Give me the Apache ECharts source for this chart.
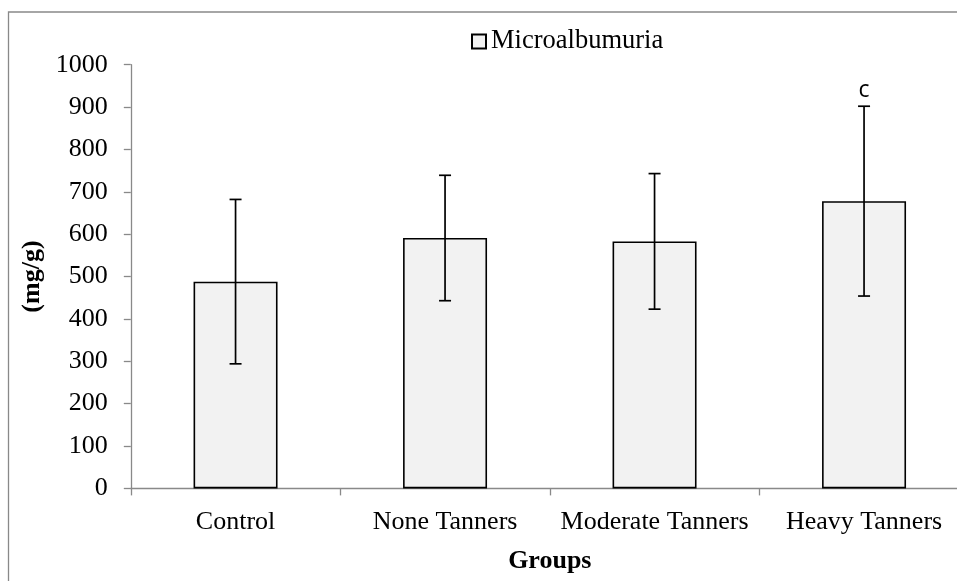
<!DOCTYPE html>
<html>
<head>
<meta charset="utf-8">
<script src="https://cdn.jsdelivr.net/npm/echarts@6/dist/echarts.min.js"></script>
<style>
html,body{margin:0;padding:0;background:#fff;}
#chart{width:957px;height:581px;}
</style>
</head>
<body>
<div id="chart"></div>
<script>
// ---- data ----
const categories = ['Control', 'None Tanners', 'Moderate Tanners', 'Heavy Tanners'];
const means = [488, 591, 583, 678];
const errors = [194, 148, 160, 224];
const sigLabels = ['', '', '', 'c'];
const seriesName = 'Microalbumuria';
const yTicks = { min: 0, max: 1000, interval: 100 };

const serif = '"Liberation Serif", "Times New Roman", serif';
const axisGray = '#898989';

const errData = categories.map((c, i) => [i, means[i] - errors[i], means[i] + errors[i], sigLabels[i]]);

const chart = echarts.init(document.getElementById('chart'), null, { renderer: 'canvas' });
chart.setOption({
  animation: false,
  backgroundColor: '#ffffff',
  graphic: [
    { type: 'polyline', shape: { points: [[8.5, 590], [8.5, 12], [970, 12]] },
      style: { stroke: axisGray, lineWidth: 1.3, fill: null }, silent: true }
  ],
  legend: {
    data: [seriesName],
    left: 466, top: 23,
    itemWidth: 14, itemHeight: 14,
    icon: 'rect',
    textStyle: { fontFamily: serif, fontSize: 26.5, color: '#000' }
  },
  grid: { left: 130.8, top: 64.7, width: 838, height: 423.7, containLabel: false, outerBoundsMode: 'none' },
  xAxis: {
    type: 'category',
    data: categories,
    boundaryGap: true,
    name: 'Groups',
    nameLocation: 'middle',
    nameGap: 60,
    nameTextStyle: { fontFamily: serif, fontSize: 26, fontWeight: 'bold', color: '#000' },
    axisLine: { lineStyle: { color: axisGray, width: 1.3 } },
    axisTick: { show: true, length: 7, lineStyle: { color: axisGray, width: 1.3 } },
    axisLabel: { fontFamily: serif, fontSize: 26, color: '#000', margin: 21, interval: 0 },
    splitLine: { show: false }
  },
  yAxis: {
    type: 'value',
    min: yTicks.min, max: yTicks.max, interval: yTicks.interval,
    name: '(mg/g)',
    nameLocation: 'middle',
    nameGap: 80,
    nameRotate: 90,
    nameTextStyle: { fontFamily: serif, fontSize: 26, fontWeight: 'bold', color: '#000' },
    axisLine: { show: true, lineStyle: { color: axisGray, width: 1.3 } },
    axisTick: { show: true, length: 7, lineStyle: { color: axisGray, width: 1.3 } },
    axisLabel: { fontFamily: serif, fontSize: 26, color: '#000', margin: 23, formatter: function (v) { return String(v); } },
    splitLine: { show: false }
  },
  series: [
    {
      name: seriesName,
      type: 'bar',
      data: means,
      barWidth: 84,
      itemStyle: { color: '#f2f2f2', borderColor: '#000', borderWidth: 1.6 },
      z: 2
    },
    {
      type: 'custom',
      name: 'err',
      data: errData,
      z: 5,
      renderItem: function (params, api) {
        const x = api.value(0);
        const lo = api.coord([x, api.value(1)]);
        const hi = api.coord([x, api.value(2)]);
        const hw = 6;
        const style = { stroke: '#000', lineWidth: 1.7 };
        const children = [
          { type: 'line', shape: { x1: hi[0], y1: hi[1], x2: lo[0], y2: lo[1] }, style: style },
          { type: 'line', shape: { x1: hi[0] - hw, y1: hi[1], x2: hi[0] + hw, y2: hi[1] }, style: style },
          { type: 'line', shape: { x1: lo[0] - hw, y1: lo[1], x2: lo[0] + hw, y2: lo[1] }, style: style }
        ];
        const lab = api.value(3);
        if (lab) {
          children.push({ type: 'text', x: hi[0], y: hi[1] - 16,
            style: { text: String(lab), fill: '#000', font: '23px "Open Sans", "DejaVu Sans", sans-serif',
              align: 'center', verticalAlign: 'middle' } });
        }
        return { type: 'group', children: children };
      }
    }
  ]
});
</script>
</body>
</html>
